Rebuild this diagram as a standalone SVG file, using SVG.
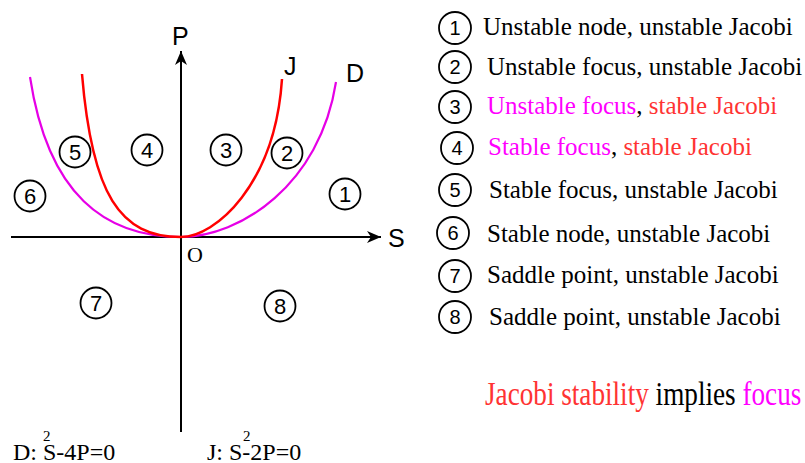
<svg xmlns="http://www.w3.org/2000/svg" width="805" height="463" viewBox="0 0 805 463">
<style>
.ax{stroke:#000;stroke-width:2;fill:none}
.cj{stroke:#f00;stroke-width:2.5;fill:none}
.cd{stroke:#e600e6;stroke-width:2.2;fill:none}
.rc{fill:none;stroke:#000;stroke-width:1.8}
.rn{font-family:"Liberation Sans",Arial,sans-serif;font-size:22px;text-anchor:middle;fill:#000}
.ln{font-family:"Liberation Sans",Arial,sans-serif;font-size:20px;text-anchor:middle;fill:#000}
.lab{font-family:"Liberation Sans",Arial,sans-serif;font-size:25px;fill:#000}
.ser{font-family:"Liberation Serif","Times New Roman",serif;fill:#000}
.lt{font-family:"Liberation Serif","Times New Roman",serif;font-size:25px;fill:#000}
.mg{fill:#ff00ff}
.rd{fill:#ff3333}
</style>
<defs>
<marker id="arr" viewBox="-14 -7 16 14" markerWidth="16" markerHeight="14" refX="0" refY="0" orient="auto" markerUnits="userSpaceOnUse">
<path d="M0,0 L-14,-6 L-10,0 L-14,6 Z" fill="#000"/>
</marker>
</defs>
<rect width="805" height="463" fill="#fff"/>
<g id="connectors">
<path class="ax" d="M11,237 H381" marker-end="url(#arr)"/>
<path class="ax" d="M181,432 V51" marker-end="url(#arr)"/>
<path id="curve-D-left" class="cd" d="M30,77 C48,195 105,237 181,237"/>
<path id="curve-D-right" class="cd" d="M336,82 C320,185 240,237 181,237"/>
<path id="curve-J-left" class="cj" d="M82,74 C92,195 120,237 181,237"/>
<path id="curve-J-right" class="cj" d="M282,79 C275,185 215,237 181,237"/>
</g>
<g id="axis-labels">
<text class="lab" x="172" y="45">P</text>
<text class="lab" x="388" y="247">S</text>
<text class="lab" x="284" y="75">J</text>
<text class="lab" x="346" y="82">D</text>
<text class="ser" x="187" y="262" font-size="22">O</text>
</g>
<g id="region-1"><circle class="rc" cx="345" cy="194" r="15.5"/><text class="rn" x="345" y="202">1</text></g>
<g id="region-2"><circle class="rc" cx="287" cy="153" r="15.5"/><text class="rn" x="287" y="161">2</text></g>
<g id="region-3"><circle class="rc" cx="226" cy="150" r="15.5"/><text class="rn" x="226" y="158">3</text></g>
<g id="region-4"><circle class="rc" cx="147" cy="150" r="15.5"/><text class="rn" x="147" y="158">4</text></g>
<g id="region-5"><circle class="rc" cx="75" cy="152" r="15.5"/><text class="rn" x="75" y="160">5</text></g>
<g id="region-6"><circle class="rc" cx="30" cy="196" r="15.5"/><text class="rn" x="30" y="204">6</text></g>
<g id="region-7"><circle class="rc" cx="96" cy="303" r="15.5"/><text class="rn" x="96" y="311">7</text></g>
<g id="region-8"><circle class="rc" cx="280" cy="306" r="15.5"/><text class="rn" x="280" y="314">8</text></g>
<g id="legend-1"><circle class="rc" cx="455" cy="28" r="16"/><text class="ln" x="455" y="35">1</text><text class="lt" x="483" y="35">Unstable node, unstable Jacobi</text></g>
<g id="legend-2"><circle class="rc" cx="455" cy="67" r="16"/><text class="ln" x="455" y="74">2</text><text class="lt" x="487" y="75">Unstable focus, unstable Jacobi</text></g>
<g id="legend-3"><circle class="rc" cx="455" cy="107" r="16"/><text class="ln" x="455" y="114">3</text><text class="lt" x="487" y="114"><tspan class="mg">Unstable focus</tspan>, <tspan class="rd">stable Jacobi</tspan></text></g>
<g id="legend-4"><circle class="rc" cx="457" cy="148" r="16"/><text class="ln" x="457" y="155">4</text><text class="lt" x="488" y="155"><tspan class="mg">Stable focus</tspan>, <tspan class="rd">stable Jacobi</tspan></text></g>
<g id="legend-5"><circle class="rc" cx="455" cy="190" r="16"/><text class="ln" x="455" y="197">5</text><text class="lt" x="489" y="198">Stable focus, unstable Jacobi</text></g>
<g id="legend-6"><circle class="rc" cx="453" cy="233" r="16"/><text class="ln" x="453" y="240">6</text><text class="lt" x="487" y="242">Stable node, unstable Jacobi</text></g>
<g id="legend-7"><circle class="rc" cx="455" cy="276" r="16"/><text class="ln" x="455" y="283">7</text><text class="lt" x="487" y="283">Saddle point, unstable Jacobi</text></g>
<g id="legend-8"><circle class="rc" cx="455" cy="317" r="16"/><text class="ln" x="455" y="324">8</text><text class="lt" x="489" y="325">Saddle point, unstable Jacobi</text></g>
<g id="conclusion">
<text class="ser" font-size="34" transform="translate(485,405) scale(0.8,1)"><tspan class="rd">Jacobi stability</tspan> implies <tspan class="mg">focus</tspan></text>
</g>
<g id="equations">
<text class="ser" x="13" y="460" font-size="24">D: S-4P=0</text>
<text class="ser" x="43" y="441" font-size="15">2</text>
<text class="ser" x="207" y="460" font-size="24">J: S-2P=0</text>
<text class="ser" x="243" y="441" font-size="15">2</text>
</g>
</svg>
